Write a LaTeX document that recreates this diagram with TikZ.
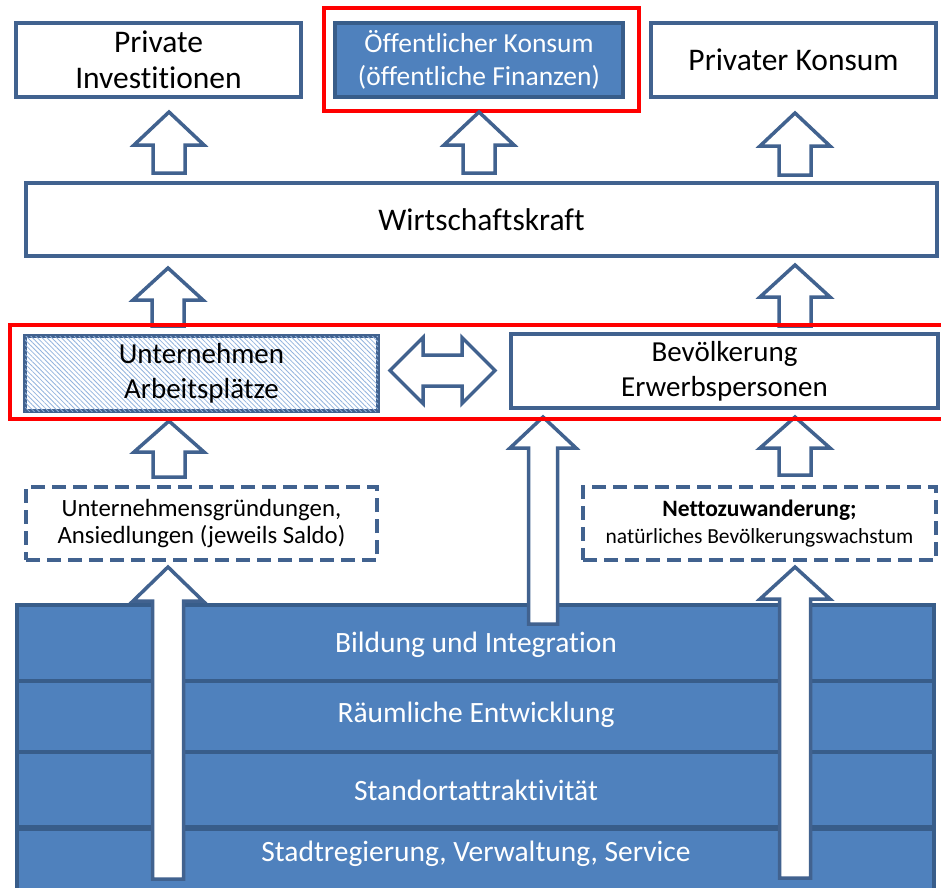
\documentclass[tikz,border=0pt]{standalone}
\usepackage{fontspec}
\setmainfont{Carlito}[Ligatures=NoCommon]
\usetikzlibrary{calc,patterns.meta}
\definecolor{bd}{HTML}{41628F}
\definecolor{lay}{HTML}{4F81BD}
\definecolor{layb}{HTML}{385D8A}
\definecolor{hatchc}{HTML}{93B4DE}
\definecolor{redf}{HTML}{FF0000}
\newcommand{\myfs}[2]{\fontsize{#1}{#2}\selectfont}
\newcommand{\blkarrow}[5]{%
  \draw[barrow] let \p1=(#1), \p2=(#2) in
    (\x2-#3pt,\y1) -- (\x2-#3pt,\y2-#5pt) -- (\x2-#4pt,\y2-#5pt) -- (\x2,\y2)
    -- (\x2+#4pt,\y2-#5pt) -- (\x2+#3pt,\y2-#5pt) -- (\x2+#3pt,\y1) -- cycle;}
\tikzset{
  box/.style={draw=bd, line width=4pt, fill=white, rectangle, inner sep=0pt, align=center, text=black},
  bluebox/.style={draw=layb, line width=3.5pt, fill=lay, rectangle, inner sep=0pt, align=center, text=white},
  dbox/.style={box, dash pattern=on 14pt off 7pt, line width=3.5pt},
  hatchbox/.style={box, postaction={pattern={Lines[angle=-45,distance=3.4pt,line width=0.8pt]}, pattern color=hatchc}},
  redframe/.style={draw=redf, line width=4.5pt},
  layer/.style={draw=layb, line width=4pt, fill=lay, rectangle, inner sep=0pt, minimum width=917pt},
  layertext/.style={text=white, font=\myfs{29.5}{33}, inner sep=0pt},
  barrow/.style={draw=bd, line width=3.5pt, fill=white, line join=miter},
}
\begin{document}
\begin{tikzpicture}[x=1pt,y=-1pt]
\useasboundingbox (0,0) rectangle (941,887);
\fill[white] (0,0) rectangle (941,887);

% bottom layers
\node[layer, minimum height=76pt] (l1) at (475.5,643) {};
\node[layer, minimum height=71pt] (l2) at (475.5,716.5) {};
\node[layer, minimum height=75pt] (l3) at (475.5,789.5) {};
\node[layer, minimum height=80pt, anchor=north] (l4) at (475.5,827) {};
\node[layertext] (t1) at (476,645) {Bildung und Integration};
\node[layertext] (t2) at (476,715) {Räumliche Entwicklung};
\node[layertext] (t3) at (476,790) {Standortattraktivität};
\node[layertext] (t4) at (476,854) {Stadtregierung, Verwaltung, Service};

% top row
\node[box, minimum width=285pt, minimum height=74pt, font=\myfs{31.5}{36}] (pi) at (158.5,60) {Private\\Investitionen};
\node[bluebox, minimum width=288pt, minimum height=74pt, font=\myfs{27.5}{33}] (ok) at (479,60) {Öffentlicher Konsum\\(öffentliche Finanzen)};
\node[box, minimum width=285pt, minimum height=74pt, font=\myfs{31.5}{36}] (pk) at (793.5,60) {Privater Konsum};
\draw[redframe] (324,8) rectangle (639,111);

% Wirtschaftskraft
\node[box, minimum width=911pt, minimum height=73pt, font=\myfs{31.5}{36}] (wk) at (481.5,219.5) {Wirtschaftskraft};

% middle row
\node[hatchbox, minimum width=353pt, minimum height=75pt, font=\myfs{29}{35}] (un) at (201.5,373.5) {Unternehmen\\Arbeitsplätze};
\node[box, minimum width=427pt, minimum height=74pt, font=\myfs{29}{35}] (bv) at (724.5,371) {Bevölkerung\\Erwerbspersonen};

% dashed boxes
\node[dbox, minimum width=351pt, minimum height=73pt, font=\myfs{24.8}{27}] (ug) at (201.5,523.5) {Unternehmensgründungen,\\Ansiedlungen (jeweils Saldo)};
\node[dbox, minimum width=353pt, minimum height=73pt, font=\myfs{23.5}{27}] (nz) at (759.5,523.5) {{\bfseries Nettozuwanderung;}\\{\myfs{21.5}{27}natürliches Bevölkerungswachstum}};

% arrow coordinates
\coordinate (a1b) at (169,173); \coordinate (a1t) at (169,112);
\coordinate (a2b) at (479,173); \coordinate (a2t) at (479,112);
\coordinate (a3b) at (795,175); \coordinate (a3t) at (795,113);
\coordinate (b1b) at (168,326); \coordinate (b1t) at (168,268);
\coordinate (b2b) at (795,326); \coordinate (b2t) at (795,265);
\coordinate (c1b) at (169,477); \coordinate (c1t) at (169,421);
\coordinate (c2b) at (543,624); \coordinate (c2t) at (543,417);
\coordinate (c3b) at (795,475); \coordinate (c3t) at (795,417);
\coordinate (d1b) at (168,879); \coordinate (d1t) at (168,567);
\coordinate (d2b) at (795,878); \coordinate (d2t) at (795,567);

\blkarrow{a1b}{a1t}{16}{35}{33}
\blkarrow{a2b}{a2t}{16}{35}{33}
\blkarrow{a3b}{a3t}{16}{35}{33}
\blkarrow{b1b}{b1t}{16}{35}{32}
\blkarrow{b2b}{b2t}{16}{35}{32}
\blkarrow{c1b}{c1t}{16}{35}{31}
\blkarrow{c2b}{c2t}{14.5}{33}{31}
\blkarrow{c3b}{c3t}{16}{35}{31}
\blkarrow{d1b}{d1t}{15.5}{35}{34}
\blkarrow{d2b}{d2t}{15.5}{35}{32}

% double arrow between Unternehmen and Bevoelkerung
\coordinate (dl) at (390,370.5);
\coordinate (dr) at (495,370.5);
\draw[barrow] let \p1=(dl), \p2=(dr) in
  (\x1,\y1) -- (\x1+33pt,\y1+33pt) -- (\x1+33pt,\y1+15.5pt) -- (\x2-33pt,\y1+15.5pt)
  -- (\x2-33pt,\y2+33pt) -- (\x2,\y2) -- (\x2-33pt,\y2-33pt) -- (\x2-33pt,\y2-15.5pt)
  -- (\x1+33pt,\y1-15.5pt) -- (\x1+33pt,\y1-33pt) -- cycle;

\draw[redframe] (10,325) rectangle (955,419);
\end{tikzpicture}
\end{document}
